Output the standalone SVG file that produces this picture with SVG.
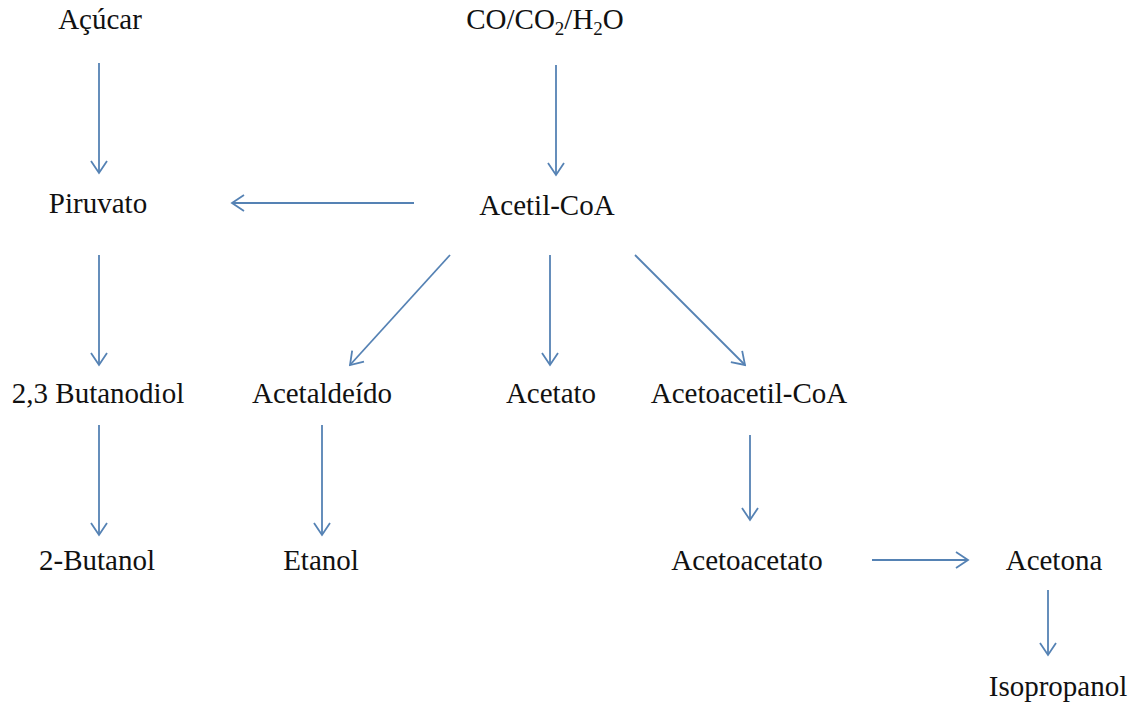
<svg xmlns="http://www.w3.org/2000/svg" width="1136" height="702" viewBox="0 0 1136 702">
<defs>
<style>
text{font-size:29px;fill:#111;text-anchor:middle}
.c line{stroke:#5582b4;stroke-width:1.8;fill:none;marker-end:url(#ah)}
</style>
<marker id="ah" viewBox="0 0 20 20" refX="18" refY="10" markerWidth="20" markerHeight="20" markerUnits="userSpaceOnUse" orient="auto">
<path d="M6 2 L18 10 L6 18" fill="none" stroke="#5582b4" stroke-width="1.8"/>
</marker>
</defs>
<rect width="1136" height="702" fill="#fff"/>
<g font-family="Liberation Serif, DejaVu Serif, serif">
<g id="acucar"><text x="100" y="29">Açúcar</text></g>
<g id="co"><text x="545" y="29">CO/CO<tspan font-size="19" dy="6">2</tspan><tspan dy="-6">/H</tspan><tspan font-size="19" dy="6">2</tspan><tspan dy="-6">O</tspan></text></g>
<g id="piruvato"><text x="98" y="213">Piruvato</text></g>
<g id="acetilcoa"><text x="547" y="215">Acetil-CoA</text></g>
<g id="butanodiol"><text x="98" y="403">2,3 Butanodiol</text></g>
<g id="acetaldeido"><text x="322" y="403">Acetaldeído</text></g>
<g id="acetato"><text x="551" y="403">Acetato</text></g>
<g id="acetoacetilcoa"><text x="749" y="403">Acetoacetil-CoA</text></g>
<g id="butanol"><text x="97" y="570">2-Butanol</text></g>
<g id="etanol"><text x="321" y="570">Etanol</text></g>
<g id="acetoacetato"><text x="747" y="570">Acetoacetato</text></g>
<g id="acetona"><text x="1054" y="570">Acetona</text></g>
<g id="isopropanol"><text x="1058" y="696">Isopropanol</text></g>
</g>
<g class="c" id="connectors">
<line x1="99" y1="63" x2="99" y2="173"/>
<line x1="556" y1="65" x2="556" y2="175"/>
<line x1="414" y1="203" x2="232" y2="203"/>
<line x1="99" y1="255" x2="99" y2="365"/>
<line x1="450" y1="255" x2="350" y2="365"/>
<line x1="550" y1="255" x2="550" y2="365"/>
<line x1="635" y1="255" x2="745" y2="365"/>
<line x1="99" y1="425" x2="99" y2="535"/>
<line x1="322" y1="425" x2="322" y2="535"/>
<line x1="750" y1="435" x2="750" y2="520"/>
<line x1="872" y1="560" x2="968" y2="560"/>
<line x1="1048" y1="590" x2="1048" y2="655"/>
</g>
</svg>
